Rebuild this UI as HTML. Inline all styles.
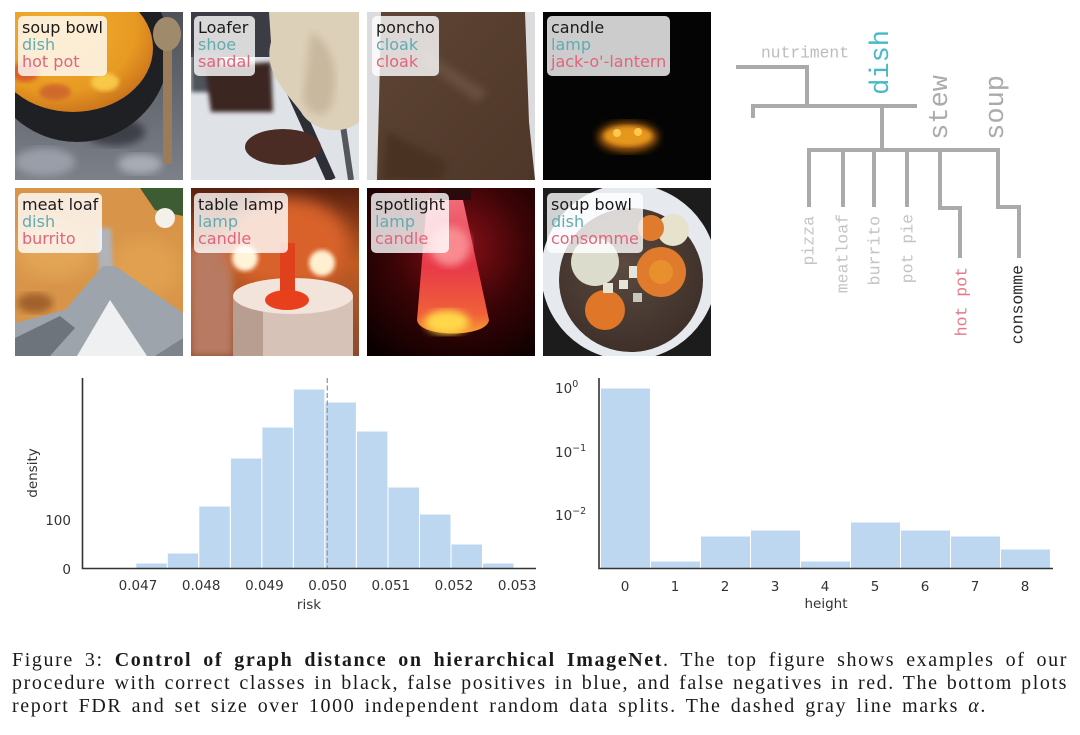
<!DOCTYPE html>
<html><head><meta charset="utf-8">
<style>
html,body{margin:0;padding:0;background:#fff;}
body{width:1080px;height:735px;position:relative;overflow:hidden;}
svg{position:absolute;left:0;top:0;}
.lb{position:absolute;background:rgba(255,255,255,0.8);border-radius:5px;padding:3px 4px 6px 4px;font-family:"DejaVu Sans",sans-serif;font-size:16px;line-height:17px;white-space:nowrap;}
.k{color:#1a1a1a}.b{color:#62abb2}.r{color:#e2647c}
.cap{position:absolute;left:12px;font-family:"Liberation Serif",serif;font-size:20px;color:#1a1a1a;white-space:nowrap;text-align:justify;text-align-last:justify;letter-spacing:1.6px;line-height:23px;height:23px;}
</style></head><body>
<svg width="1080" height="735" viewBox="0 0 1080 735" xmlns="http://www.w3.org/2000/svg">
<defs>
<filter id="bl2"><feGaussianBlur stdDeviation="2"/></filter>
<filter id="bl4"><feGaussianBlur stdDeviation="4"/></filter>
<filter id="bl8"><feGaussianBlur stdDeviation="8"/></filter>
<linearGradient id="stone" x1="0" y1="0" x2="0" y2="1"><stop offset="0" stop-color="#4e5158"/><stop offset="1" stop-color="#7c8088"/></linearGradient>
<radialGradient id="soup1" cx="0.4" cy="0.35" r="0.7"><stop offset="0" stop-color="#f2b030"/><stop offset="0.7" stop-color="#e89a22"/><stop offset="1" stop-color="#c8701c"/></radialGradient>
<linearGradient id="lampbg" x1="0" y1="0" x2="0" y2="1"><stop offset="0" stop-color="#5a2010"/><stop offset="0.45" stop-color="#c05a22"/><stop offset="1" stop-color="#8a4a30"/></linearGradient>
<radialGradient id="spotbg" cx="0.55" cy="0.35" r="0.8"><stop offset="0" stop-color="#8a1018"/><stop offset="0.5" stop-color="#3a0406"/><stop offset="1" stop-color="#0a0000"/></radialGradient>
<linearGradient id="lava" x1="0" y1="0" x2="0" y2="1"><stop offset="0" stop-color="#f06a7a"/><stop offset="0.5" stop-color="#e83a48"/><stop offset="0.85" stop-color="#f0603a"/><stop offset="1" stop-color="#f8a030"/></linearGradient>
<radialGradient id="broth" cx="0.45" cy="0.4" r="0.7"><stop offset="0" stop-color="#5a4a40"/><stop offset="1" stop-color="#3a2c26"/></radialGradient>
<linearGradient id="poncho" x1="0" y1="0" x2="1" y2="1"><stop offset="0" stop-color="#5e4535"/><stop offset="1" stop-color="#4e3628"/></linearGradient>
</defs>

<!-- Tile 1: soup bowl -->
<svg x="15" y="12" width="168" height="168" viewBox="0 0 168 168">
<rect width="168" height="168" fill="url(#stone)"/>
<ellipse cx="30" cy="150" rx="30" ry="14" fill="#9a9ea8" filter="url(#bl4)"/>
<ellipse cx="125" cy="152" rx="22" ry="10" fill="#a8acb4" filter="url(#bl4)"/>
<ellipse cx="100" cy="120" rx="30" ry="14" fill="#3e4048" filter="url(#bl4)"/>
<ellipse cx="62" cy="38" rx="92" ry="92" fill="#1e2024"/>
<ellipse cx="58" cy="36" rx="80" ry="64" fill="url(#soup1)"/>
<ellipse cx="10" cy="60" rx="14" ry="10" fill="#d8602a" filter="url(#bl2)"/>
<ellipse cx="40" cy="80" rx="16" ry="8" fill="#d06a2a" filter="url(#bl2)"/>
<ellipse cx="90" cy="70" rx="14" ry="9" fill="#f8c848" filter="url(#bl2)"/>
<rect x="148" y="34" width="9" height="118" fill="#9a7c5a"/>
<ellipse cx="152" cy="22" rx="14" ry="17" fill="#a08a6c"/>
</svg>

<!-- Tile 2: loafer -->
<svg x="191" y="12" width="168" height="168" viewBox="0 0 168 168">
<rect width="168" height="168" fill="#dfe3e8"/>
<rect x="0" y="0" width="100" height="45" fill="#3c3c44"/>
<rect x="0" y="40" width="30" height="40" fill="#50525a" filter="url(#bl2)"/>
<path d="M14 55 L80 50 L82 100 L20 100 Z" fill="#3a2622" filter="url(#bl2)"/>
<line x1="96" y1="70" x2="140" y2="168" stroke="#2e2e36" stroke-width="10"/>
<line x1="150" y1="100" x2="160" y2="168" stroke="#55565e" stroke-width="6"/>
<ellipse cx="92" cy="135" rx="38" ry="18" fill="#4a2c24"/>
<path d="M78 0 L168 0 L168 110 C150 125 120 118 110 100 C95 80 72 60 80 30 Z" fill="#ddd0b8"/>
<path d="M120 20 C140 30 150 60 140 95 C130 110 115 100 112 85 Z" fill="#c8b89e" filter="url(#bl4)"/>
</svg>

<!-- Tile 3: poncho -->
<svg x="367" y="12" width="168" height="168" viewBox="0 0 168 168">
<rect width="168" height="168" fill="#dcdcde"/>
<path d="M14 0 L158 0 L162 110 L168 168 L10 168 L12 90 Z" fill="url(#poncho)"/>
<path d="M60 40 L120 80 L110 90 L55 50 Z" fill="#6a5040" filter="url(#bl4)"/>
<path d="M20 120 L80 150 L75 168 L15 168 Z" fill="#4a3224" filter="url(#bl4)"/>
</svg>

<!-- Tile 4: candle -->
<svg x="543" y="12" width="168" height="168" viewBox="0 0 168 168">
<rect width="168" height="168" fill="#040404"/>
<ellipse cx="85" cy="125" rx="30" ry="15" fill="#a05a10" filter="url(#bl4)"/>
<ellipse cx="85" cy="124" rx="24" ry="10" fill="#e6981e" filter="url(#bl2)"/>
<circle cx="74" cy="121" r="4" fill="#ffc850"/>
<circle cx="95" cy="120" r="4" fill="#ffc850"/>
</svg>

<!-- Tile 5: meat loaf -->
<svg x="15" y="188" width="168" height="168" viewBox="0 0 168 168">
<rect width="168" height="168" fill="#d8954a"/>
<ellipse cx="40" cy="60" rx="40" ry="30" fill="#e2a455" filter="url(#bl8)"/>
<ellipse cx="130" cy="80" rx="35" ry="30" fill="#e0a050" filter="url(#bl8)"/>
<path d="M125 0 L168 0 L168 28 L140 22 Z" fill="#3e5c34"/>
<ellipse cx="150" cy="30" rx="10" ry="10" fill="#f4f0ea"/>
<ellipse cx="20" cy="115" rx="18" ry="10" fill="#a0602a" filter="url(#bl4)"/>
<path d="M82 40 L96 40 L98 85 L84 85 Z" fill="#b0b4ba" filter="url(#bl2)"/>
<path d="M0 168 L0 135 L50 122 L88 78 L100 78 L168 125 L168 168 Z" fill="#9ea4ac"/>
<path d="M0 168 L0 150 L45 128 L60 140 L35 168 Z" fill="#6e747c"/>
<path d="M62 168 L95 112 L132 168 Z" fill="#eef0f2"/>
<path d="M140 168 L168 150 L168 168 Z" fill="#7e848c"/>
</svg>

<!-- Tile 6: table lamp -->
<svg x="191" y="188" width="168" height="168" viewBox="0 0 168 168">
<rect width="168" height="168" fill="url(#lampbg)"/>
<rect x="0" y="60" width="42" height="108" fill="#b87a62" filter="url(#bl4)"/>
<ellipse cx="96" cy="55" rx="62" ry="45" fill="#d8622a" filter="url(#bl8)"/>
<circle cx="54" cy="70" r="13" fill="#fff4d8" filter="url(#bl2)"/>
<circle cx="131" cy="75" r="13" fill="#fff0d0" filter="url(#bl2)"/>
<rect x="42" y="108" width="120" height="60" fill="#d6c2b6"/>
<rect x="42" y="108" width="30" height="60" fill="#b89e90"/>
<ellipse cx="102" cy="108" rx="60" ry="18" fill="#f2e4da"/>
<rect x="89" y="55" width="15" height="52" fill="#e0401c"/>
<ellipse cx="96" cy="112" rx="22" ry="10" fill="#e8401c"/>
</svg>

<!-- Tile 7: spotlight -->
<svg x="367" y="188" width="168" height="168" viewBox="0 0 168 168">
<rect width="168" height="168" fill="url(#spotbg)"/>
<rect x="70" y="0" width="34" height="12" fill="#2a0a0a"/>
<path d="M60 12 L96 12 L122 132 C120 150 52 150 50 132 Z" fill="url(#lava)"/>
<circle cx="83" cy="58" r="20" fill="#f88a90" filter="url(#bl4)"/>
<ellipse cx="80" cy="134" rx="22" ry="12" fill="#ffd84a" filter="url(#bl4)"/>
</svg>

<!-- Tile 8: soup bowl 2 -->
<svg x="543" y="188" width="168" height="168" viewBox="0 0 168 168">
<rect width="168" height="168" fill="#1c1c1c"/>
<circle cx="86" cy="84" r="88" fill="#e6eaee"/>
<circle cx="88" cy="92" r="72" fill="url(#broth)"/>
<circle cx="52" cy="74" r="24" fill="#dcdccc"/>
<circle cx="130" cy="42" r="16" fill="#e6e2cc"/>
<circle cx="108" cy="40" r="13" fill="#e07a2c"/>
<circle cx="118" cy="84" r="25" fill="#e07a2c"/>
<circle cx="118" cy="84" r="12" fill="#e8902e"/>
<circle cx="62" cy="122" r="20" fill="#e07628"/>
<rect x="60" y="95" width="10" height="10" fill="#e6e6d8"/>
<rect x="76" y="92" width="9" height="9" fill="#e6e6d8"/>
<rect x="86" y="78" width="8" height="12" fill="#e6e6d8"/>
<rect x="90" y="105" width="9" height="9" fill="#c8c8b8"/>
</svg>

<!-- Tree -->
<g fill="none" stroke="#aaaaaa" stroke-width="4" stroke-linejoin="miter">
<polyline points="736,67 807,67 807,106"/>
<polyline points="753,118 753,106 917,106"/>
<line x1="882" y1="106" x2="882" y2="150"/>
<polyline points="809,207 809,150 998,150 998,207 1019,207 1019,258"/>
<line x1="843" y1="150" x2="843" y2="207"/>
<line x1="874" y1="150" x2="874" y2="207"/>
<line x1="907" y1="150" x2="907" y2="207"/>
<polyline points="940,150 940,208 960,208 960,258"/>
</g>
<g font-family="'Liberation Mono', monospace" dominant-baseline="central">
<text x="805" y="53" font-size="16.3" fill="#bcbcbc" text-anchor="middle">nutriment</text>
<text transform="translate(882,30) rotate(-90)" text-anchor="end" font-size="27" fill="#48b9c6">dish</text>
<text transform="translate(941,75) rotate(-90)" text-anchor="end" font-size="27" fill="#ababab">stew</text>
<text transform="translate(997,75) rotate(-90)" text-anchor="end" font-size="27" fill="#ababab">soup</text>
<text transform="translate(809,216) rotate(-90)" text-anchor="end" font-size="16.5" fill="#c4c4c4">pizza</text>
<text transform="translate(843,214) rotate(-90)" text-anchor="end" font-size="16.5" fill="#c4c4c4">meatloaf</text>
<text transform="translate(875,216) rotate(-90)" text-anchor="end" font-size="16.5" fill="#c4c4c4">burrito</text>
<text transform="translate(908,214) rotate(-90)" text-anchor="end" font-size="16.5" fill="#c4c4c4">pot pie</text>
<text transform="translate(962,267) rotate(-90)" text-anchor="end" font-size="16.5" fill="#e6788a">hot pot</text>
<text transform="translate(1018,265) rotate(-90)" text-anchor="end" font-size="16.5" fill="#2a2a2a">consomme</text>
</g>

<!-- Left histogram -->
<g fill="#bdd7f1" stroke="#ffffff" stroke-width="1">
<rect x="135.8" y="563" width="31.5" height="5.5"/>
<rect x="167.3" y="553" width="31.5" height="15.5"/>
<rect x="198.8" y="506" width="31.5" height="62.5"/>
<rect x="230.4" y="458" width="31.5" height="110.5"/>
<rect x="261.9" y="427" width="31.5" height="141.5"/>
<rect x="293.4" y="389" width="31.5" height="179.5"/>
<rect x="324.9" y="402" width="31.5" height="166.5"/>
<rect x="356.4" y="431" width="31.5" height="137.5"/>
<rect x="388.0" y="487" width="31.5" height="81.5"/>
<rect x="419.5" y="514" width="31.5" height="54.5"/>
<rect x="451.0" y="544" width="31.5" height="24.5"/>
<rect x="482.5" y="563" width="31.5" height="5.5"/>
</g>
<line x1="327.3" y1="378" x2="327.3" y2="568" stroke="#9a9a9a" stroke-width="1.3" stroke-dasharray="5,2.5"/>
<g stroke="#333" stroke-width="1.6" fill="none">
<polyline points="82.5,378 82.5,568.5 536,568.5"/>
</g>
<g font-family="'DejaVu Sans', sans-serif" font-size="13.5" fill="#333">
<text x="71" y="574" text-anchor="end">0</text>
<text x="71" y="525" text-anchor="end">100</text>
<g text-anchor="middle">
<text x="138" y="590">0.047</text>
<text x="201.2" y="590">0.048</text>
<text x="264.4" y="590">0.049</text>
<text x="327.6" y="590">0.050</text>
<text x="390.8" y="590">0.051</text>
<text x="454" y="590">0.052</text>
<text x="517.2" y="590">0.053</text>
<text x="309" y="609">risk</text>
<text transform="translate(37,473) rotate(-90)">density</text>
</g>
</g>

<!-- Right histogram -->
<g fill="#bdd7f1" stroke="#ffffff" stroke-width="1">
<rect x="600.5" y="388" width="50" height="180.5"/>
<rect x="650.5" y="561" width="50" height="7.5"/>
<rect x="700.5" y="536" width="50" height="32.5"/>
<rect x="750.5" y="530" width="50" height="38.5"/>
<rect x="800.5" y="561" width="50" height="7.5"/>
<rect x="850.5" y="522" width="50" height="46.5"/>
<rect x="900.5" y="530" width="50" height="38.5"/>
<rect x="950.5" y="536" width="50" height="32.5"/>
<rect x="1000.5" y="549" width="50" height="19.5"/>
</g>
<g stroke="#333" stroke-width="1.6" fill="none">
<polyline points="599,378 599,568.5 1053,568.5"/>
</g>
<g font-family="'DejaVu Sans', sans-serif" font-size="13.5" fill="#333">
<text x="555" y="393">10<tspan font-size="9.5" dy="-6">0</tspan></text>
<text x="555" y="457">10<tspan font-size="9.5" dy="-6">−1</tspan></text>
<text x="555" y="520">10<tspan font-size="9.5" dy="-6">−2</tspan></text>
<g text-anchor="middle">
<text x="625" y="591">0</text>
<text x="675" y="591">1</text>
<text x="725" y="591">2</text>
<text x="775" y="591">3</text>
<text x="825" y="591">4</text>
<text x="875" y="591">5</text>
<text x="925" y="591">6</text>
<text x="975" y="591">7</text>
<text x="1025" y="591">8</text>
<text x="826" y="608">height</text>
</g>
</g>
</svg>

<div class="lb" style="left:18px;top:16px"><div class="k">soup bowl</div><div class="b">dish</div><div class="r">hot pot</div></div>
<div class="lb" style="left:194px;top:16px"><div class="k">Loafer</div><div class="b">shoe</div><div class="r">sandal</div></div>
<div class="lb" style="left:372px;top:16px"><div class="k">poncho</div><div class="b">cloak</div><div class="r">cloak</div></div>
<div class="lb" style="left:547px;top:16px"><div class="k">candle</div><div class="b">lamp</div><div class="r">jack-o'-lantern</div></div>
<div class="lb" style="left:18px;top:193px"><div class="k">meat loaf</div><div class="b">dish</div><div class="r">burrito</div></div>
<div class="lb" style="left:194px;top:193px"><div class="k">table lamp</div><div class="b">lamp</div><div class="r">candle</div></div>
<div class="lb" style="left:371px;top:193px"><div class="k">spotlight</div><div class="b">lamp</div><div class="r">candle</div></div>
<div class="lb" style="left:547px;top:193px"><div class="k">soup bowl</div><div class="b">dish</div><div class="r">consomme</div></div>

<div class="cap" style="top:649px;width:1056px">Figure 3: <b>Control of graph distance on hierarchical ImageNet</b>. The top figure shows examples of our</div>
<div class="cap" style="top:672px;width:1056px">procedure with correct classes in black, false positives in blue, and false negatives in red. The bottom plots</div>
<div class="cap" style="top:695px;width:975px">report FDR and set size over 1000 independent random data splits. The dashed gray line marks <i>α</i>.</div>
</body></html>
